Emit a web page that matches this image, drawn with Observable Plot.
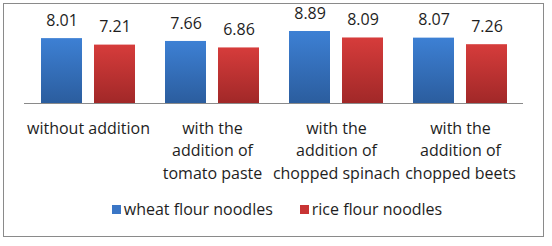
<!DOCTYPE html>
<html>
<head>
<meta charset="utf-8">
<script src="https://cdn.jsdelivr.net/npm/d3@7"></script>
<script src="https://cdn.jsdelivr.net/npm/@observablehq/plot@0.6"></script>
<style>
  html, body { margin: 0; padding: 0; background: #fff; }
  body { width: 552px; height: 246px; position: relative; overflow: hidden; font-family: "Open Sans", sans-serif; color: #1e1e1e; }
  #frame { position: absolute; left: 3px; top: 3px; width: 539px; height: 232px; border: 1px solid #8a8a8a; }
  #chart { position: absolute; left: 0; top: 0; }
  #legend { position: absolute; left: 0; top: 199px; width: 552px; display: flex; justify-content: center; gap: 27px; font-size: 16px; line-height: 20px; padding-left: 2px; box-sizing: border-box; }
  .item { display: flex; align-items: center; gap: 3px; }
  .sw { width: 9px; height: 9px; display: inline-block; }
</style>
</head>
<body>
<div id="frame"></div>
<div id="chart"></div>
<div id="legend"></div>
<script>
const categories = [
  "without addition",
  "with the\naddition of\ntomato paste",
  "with the\naddition of\nchopped spinach",
  "with the\naddition of\nchopped beets"
];
const seriesNames = ["wheat flour noodles", "rice flour noodles"];
const wheatValues = [8.01, 7.66, 8.89, 8.07];
const riceValues = [7.21, 6.86, 8.09, 7.26];
const seriesColors = ["#3a76c6", "#c83434"];

const wheat = categories.map((c, i) => ({category: c, value: wheatValues[i]}));
const rice = categories.map((c, i) => ({category: c, value: riceValues[i]}));

const chart = Plot.plot({
  width: 552,
  height: 185,
  marginLeft: 24,
  marginRight: 29,
  marginTop: 22,
  marginBottom: 82,
  style: {fontFamily: "'Open Sans', sans-serif", fontSize: "16px", color: "#1e1e1e", background: "transparent"},
  x: {type: "band", domain: categories, padding: 0, axis: null},
  y: {domain: [0, 10], axis: null},
  marks: [
    Plot.barY(wheat, {x: "category", y: "value", fill: "url(#gradWheat)", insetLeft: 15, insetRight: 68}),
    Plot.barY(rice, {x: "category", y: "value", fill: "url(#gradRice)", insetLeft: 68, insetRight: 15}),
    Plot.ruleY([0], {stroke: "#8a8a8a", strokeWidth: 1}),
    Plot.text(wheat, {x: "category", y: "value", text: d => d.value.toFixed(2), dx: -26.4, dy: -18, fontSize: 16, fill: "#1e1e1e"}),
    Plot.text(rice, {x: "category", y: "value", text: d => d.value.toFixed(2), dx: 26.5, dy: -18, fontSize: 16, fill: "#1e1e1e"}),
    Plot.text(categories, {x: d => d, y: () => 0, text: d => d, lineAnchor: "top", lineHeight: 1.4, dy: 14.5, fontSize: 16, fill: "#1e1e1e"})
  ]
});

const svg = d3.select(chart);
const defs = svg.insert("defs", ":first-child");
const grads = [
  {id: "gradWheat", top: "#3d80d4", bottom: "#2b5d9e"},
  {id: "gradRice", top: "#d63c3b", bottom: "#a12828"}
];
for (const g of grads) {
  const lg = defs.append("linearGradient").attr("id", g.id).attr("x1", 0).attr("y1", 0).attr("x2", 0).attr("y2", 1);
  lg.append("stop").attr("offset", "0%").attr("stop-color", g.top);
  lg.append("stop").attr("offset", "100%").attr("stop-color", g.bottom);
}
document.getElementById("chart").appendChild(chart);

const legend = d3.select("#legend");
seriesNames.forEach((name, i) => {
  const item = legend.append("div").attr("class", "item");
  item.append("span").attr("class", "sw").style("background", seriesColors[i]);
  item.append("span").text(name);
});
</script>
</body>
</html>
